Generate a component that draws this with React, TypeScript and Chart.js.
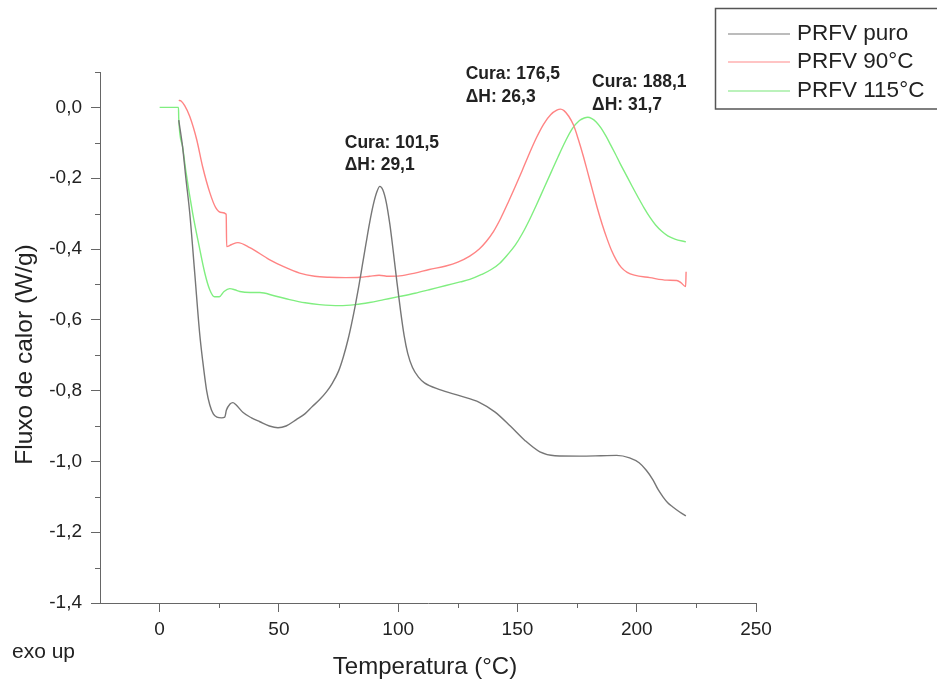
import React, { useEffect, useRef } from "react";
import { Chart, registerables } from "chart.js";

Chart.register(...registerables);

// ---- data (temperature °C, heat flow W/g) ----
const puroT = [8, 9.6, 11, 12.6, 14.7, 16.8, 18, 19.7, 21, 22.5, 24, 26, 27.3, 28, 29.5, 30.7, 32, 35, 38.5, 42, 46, 49.6, 53, 57.3, 61, 64, 67, 70, 72.5, 75, 77, 79, 80.5, 82, 83.5, 85, 86.5, 88, 89.5, 91, 92.3, 93.5, 95, 96.5, 98, 99.5, 101, 102.5, 104, 106, 108.5, 111, 117.4, 126, 134, 140.5, 147, 153, 159.4, 165.7, 176, 185, 191.6, 197, 201, 204, 206.8, 209, 211, 213, 215, 218, 220.6];
const puroV = [-0.036, -0.11, -0.2, -0.297, -0.467, -0.64, -0.713, -0.8, -0.84, -0.866, -0.875, -0.877, -0.875, -0.855, -0.838, -0.834, -0.84, -0.862, -0.877, -0.888, -0.9, -0.905, -0.9, -0.882, -0.865, -0.845, -0.826, -0.803, -0.778, -0.745, -0.705, -0.655, -0.61, -0.56, -0.505, -0.445, -0.385, -0.327, -0.277, -0.24, -0.223, -0.232, -0.268, -0.33, -0.41, -0.495, -0.575, -0.645, -0.695, -0.735, -0.762, -0.778, -0.797, -0.815, -0.833, -0.86, -0.9, -0.94, -0.973, -0.984, -0.985, -0.984, -0.983, -0.99, -1.004, -1.025, -1.052, -1.08, -1.1, -1.117, -1.128, -1.143, -1.154];

const t90T = [8, 9, 10.5, 12.6, 15.5, 18, 21, 23.5, 26, 27.9, 28.1, 30, 32.8, 37.8, 46, 52, 58.7, 65, 71, 78, 84, 88, 92, 96, 100.7, 107, 113, 120, 125, 130, 134, 137, 140, 143, 146, 149, 152, 155, 158, 161, 164, 166.5, 168, 169.5, 171.5, 173.5, 175.5, 177.5, 179.5, 181.5, 183.5, 185.5, 187.5, 189.5, 191.5, 193.5, 196, 199, 205.5, 212.7, 216.8, 218.5, 220.5, 220.7];
const t90V = [0.02, 0.018, 0.005, -0.025, -0.09, -0.167, -0.24, -0.283, -0.297, -0.302, -0.393, -0.388, -0.382, -0.396, -0.43, -0.45, -0.468, -0.477, -0.48, -0.481, -0.48, -0.477, -0.474, -0.477, -0.476, -0.468, -0.458, -0.448, -0.437, -0.42, -0.4, -0.378, -0.35, -0.313, -0.27, -0.225, -0.178, -0.13, -0.085, -0.047, -0.02, -0.008, -0.005, -0.009, -0.025, -0.05, -0.09, -0.135, -0.185, -0.235, -0.285, -0.33, -0.37, -0.405, -0.432, -0.452, -0.466, -0.474, -0.481, -0.488, -0.489, -0.495, -0.506, -0.464];

const t115T = [0, 7.9, 8, 9.6, 11, 13.8, 16.5, 18.9, 21, 23, 25, 27, 29.4, 31.5, 33.6, 38, 42, 48, 54.5, 61, 67, 75.5, 82, 88, 94, 100.7, 107, 113, 120, 126, 130, 135, 139, 142.6, 146, 149, 152, 155, 158, 161, 164, 167, 170, 173, 176, 178, 179.5, 181, 183, 185, 187, 189, 191, 193, 195.5, 198, 200.5, 203, 205.5, 208, 210.5, 213, 216, 220.6];
const t115V = [0, 0, -0.03, -0.11, -0.18, -0.297, -0.39, -0.467, -0.515, -0.535, -0.535, -0.52, -0.512, -0.515, -0.52, -0.523, -0.523, -0.532, -0.543, -0.552, -0.557, -0.56, -0.557, -0.551, -0.543, -0.534, -0.525, -0.515, -0.503, -0.493, -0.486, -0.472, -0.458, -0.44, -0.415, -0.39, -0.357, -0.318, -0.275, -0.23, -0.185, -0.14, -0.097, -0.06, -0.037, -0.03, -0.028, -0.031, -0.041, -0.058, -0.08, -0.105, -0.131, -0.158, -0.19, -0.222, -0.253, -0.283, -0.31, -0.333, -0.35, -0.363, -0.372, -0.38];

const seriesNames = ["PRFV puro", "PRFV 90°C", "PRFV 115°C"];
const annotationLines = [
  ["Cura: 101,5", "ΔH: 29,1"],
  ["Cura: 176,5", "ΔH: 26,3"],
  ["Cura: 188,1", "ΔH: 31,7"],
];
const xTitle = "Temperatura (°C)";
const yTitle = "Fluxo de calor (W/g)";
const cornerNote = "exo up";

// ---- styles ----
const FONT = "'Liberation Sans', Arial, sans-serif";
const AXIS = "#666666";
const TEXT = "#222222";
const lineColors = ["#767676", "#ff8484", "#80ee80"];
const legendColors = ["#a6a6a6", "#ffb0b0", "#a4eea4"];

const toXY = (xs: number[], ys: number[]) => xs.map((x, i) => ({ x, y: ys[i] }));

const isMajorX = (v: number) => Math.abs(Math.round(v) % 50) === 0;
const isMajorY = (v: number) => Math.abs(Math.round(v * 10)) % 2 === 0;

const decorPlugin = {
  id: "decor",
  afterDraw(chart: any) {
    const ctx = chart.ctx;
    const xs = chart.scales.x;
    const ys = chart.scales.y;
    ctx.save();
    // minor ticks
    ctx.strokeStyle = AXIS;
    ctx.lineWidth = 1;
    ctx.beginPath();
    for (let v = 25; v < 250; v += 50) {
      const px = Math.round(xs.getPixelForValue(v)) + 0.5;
      ctx.moveTo(px, ys.bottom);
      ctx.lineTo(px, ys.bottom + 5);
    }
    for (let k = -13; k <= 1; k += 2) {
      const py = Math.round(ys.getPixelForValue(k / 10)) + 0.5;
      ctx.moveTo(xs.left - 5, py);
      ctx.lineTo(xs.left, py);
    }
    ctx.stroke();

    // axis titles
    ctx.fillStyle = TEXT;
    ctx.font = `24px ${FONT}`;
    ctx.textAlign = "center";
    ctx.textBaseline = "alphabetic";
    ctx.fillText(xTitle, (xs.left + xs.right) / 2 - 3, 674);
    ctx.save();
    ctx.translate(32, (ys.top + ys.bottom) / 2 + 17);
    ctx.rotate(-Math.PI / 2);
    ctx.font = `24.5px ${FONT}`;
    ctx.fillText(yTitle, 0, 0);
    ctx.restore();
    ctx.font = `21px ${FONT}`;
    ctx.textAlign = "left";
    ctx.fillText(cornerNote, 12, 658);

    // legend
    ctx.strokeStyle = "#555555";
    ctx.lineWidth = 1.5;
    ctx.strokeRect(715.5, 8.5, 260, 100.5);
    const rows = [34, 62, 91];
    ctx.font = `22.5px ${FONT}`;
    ctx.textBaseline = "middle";
    rows.forEach((ry, i) => {
      ctx.strokeStyle = legendColors[i];
      ctx.lineWidth = 1.5;
      ctx.beginPath();
      ctx.moveTo(728, ry);
      ctx.lineTo(790, ry);
      ctx.stroke();
      ctx.fillStyle = TEXT;
      ctx.fillText(seriesNames[i], 797, ry);
    });

    // annotations (anchored in data coordinates)
    const anchors = chart.options.plugins.decor.anchors;
    ctx.font = `bold 17.5px ${FONT}`;
    ctx.fillStyle = TEXT;
    ctx.textBaseline = "middle";
    annotationLines.forEach((lines, i) => {
      const ax = xs.getPixelForValue(anchors[i][0]);
      const ay = ys.getPixelForValue(anchors[i][1]);
      lines.forEach((t, j) => ctx.fillText(t, ax, ay + j * 22.5));
    });
    ctx.restore();
  },
};

export default function App() {
  const ref = useRef<HTMLCanvasElement | null>(null);
  useEffect(() => {
    document.body.style.margin = "0";
    const canvas = ref.current;
    if (!canvas) return;
    const datasets = [
      [puroT, puroV],
      [t90T, t90V],
      [t115T, t115V],
    ].map(([xsArr, ysArr], i) => ({
      label: seriesNames[i],
      data: toXY(xsArr, ysArr),
      borderColor: lineColors[i],
      backgroundColor: lineColors[i],
      borderWidth: 1.4,
      pointRadius: 0,
      cubicInterpolationMode: "monotone" as const,
      fill: false,
    }));
    const chart = new Chart(canvas, {
      type: "line",
      data: { datasets },
      plugins: [decorPlugin],
      options: {
        animation: false,
        responsive: false,
        events: [],
        layout: { padding: { left: 0, top: 72, right: 181, bottom: 0 } },
        plugins: {
          legend: { display: false },
          tooltip: { enabled: false },
          decor: {
            anchors: [
              [77.6, -0.1],
              [128.3, 0.093],
              [181.3, 0.071],
            ],
          },
        } as any,
        scales: {
          x: {
            type: "linear",
            position: "bottom",
            min: -25,
            max: 250,
            afterFit: (s: any) => {
              s.height = 80;
            },
            border: { display: true, color: AXIS, width: 1 },
            grid: {
              drawOnChartArea: false,
              drawTicks: true,
              tickLength: 9,
              color: (c: any) => (c.tick && isMajorX(c.tick.value) && c.tick.value >= 0 ? AXIS : "rgba(0,0,0,0)"),
            },
            ticks: {
              stepSize: 25,
              autoSkip: false,
              maxRotation: 0,
              padding: 6,
              color: TEXT,
              font: { family: FONT, size: 19 },
              callback: (v: any) => (isMajorX(Number(v)) && Number(v) >= 0 ? String(Math.round(Number(v))) : ""),
            },
          },
          y: {
            type: "linear",
            position: "left",
            min: -1.4,
            max: 0.1,
            afterFit: (s: any) => {
              s.width = 100;
            },
            border: { display: true, color: AXIS, width: 1 },
            grid: {
              drawOnChartArea: false,
              drawTicks: true,
              tickLength: 9,
              color: (c: any) => (c.tick && isMajorY(c.tick.value) ? AXIS : "rgba(0,0,0,0)"),
            },
            ticks: {
              stepSize: 0.1,
              autoSkip: false,
              padding: 9,
              color: TEXT,
              font: { family: FONT, size: 19 },
              callback: (v: any) => {
                const n = Number(v);
                if (!isMajorY(n)) return "";
                if (Math.abs(n) < 1e-9) return "0,0";
                return n.toFixed(1).replace(".", ",");
              },
            },
          },
        },
      },
    });
    return () => chart.destroy();
  }, []);
  return (
    <div style={{ width: 937, height: 683, background: "#ffffff" }}>
      <canvas ref={ref} width={937} height={683} style={{ display: "block" }} />
    </div>
  );
}
